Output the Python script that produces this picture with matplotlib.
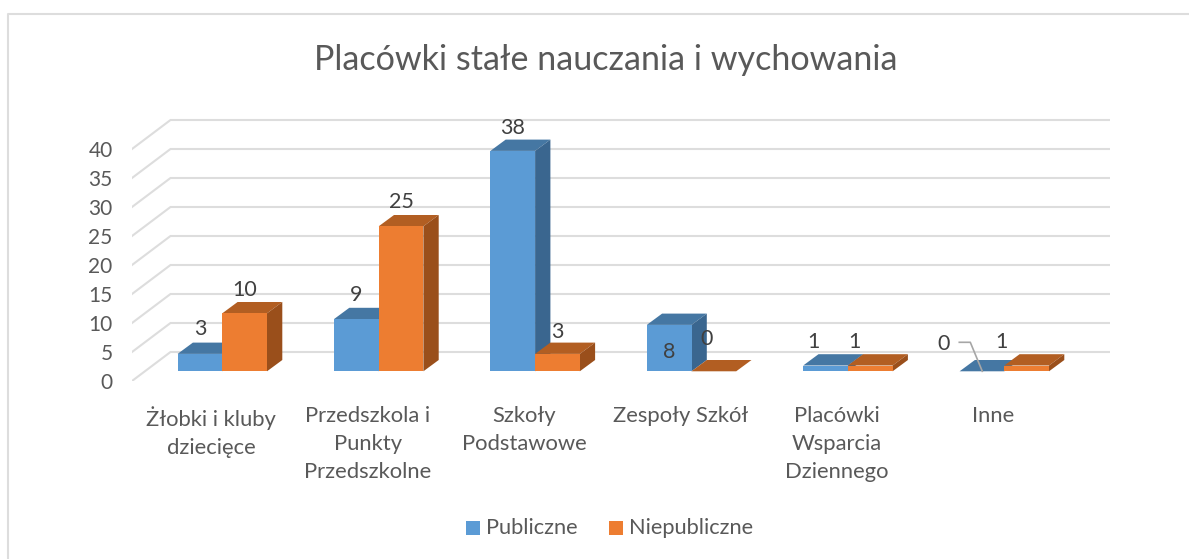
import matplotlib
matplotlib.use("Agg")
import matplotlib.pyplot as plt
from matplotlib.patches import Polygon, Rectangle
from matplotlib.transforms import ScaledTranslation

plt.rcParams['font.family'] = ['Lato', 'DejaVu Sans']

categories = ["Żłobki i kluby\ndziecięce", "Przedszkola i\nPunkty\nPrzedszkolne",
              "Szkoły\nPodstawowe", "Zespoły Szkół", "Placówki\nWsparcia\nDziennego", "Inne"]
publiczne = [3, 9, 38, 8, 1, 0]
niepubliczne = [10, 25, 3, 0, 1, 1]
y_ticks = [0, 5, 10, 15, 20, 25, 30, 35, 40]

W, H = 1189, 559
px_x = 156.4   # pixels per category
px_y = 5.8     # pixels per value unit
zero_x, zero_y = 222.3, 371.3
left, right, bottom, top = 132, 1110, 381, 100

fig = plt.figure(figsize=(W / 100, H / 100), dpi=100)
ax = fig.add_axes([left / W, 1 - bottom / H, (right - left) / W, (bottom - top) / H])
ax.set_xlim((left - zero_x) / px_x, (right - zero_x) / px_x)
ax.set_ylim((zero_y - bottom) / px_y, (zero_y - top) / px_y)
for s in ax.spines.values():
    s.set_visible(False)

bar_w = 44.7 / px_x
dep_x, dep_y = 15.3 / px_x, 11.3 / px_y
wall_x, wall_y = 38.5 / px_x, 29 / px_y
x0 = ax.get_xlim()[0]
x1 = ax.get_xlim()[1]
y0 = ax.get_ylim()[0]

# walls
grid = "#DDDDDD"
for v in y_ticks:
    ax.plot([x0, x0 + wall_x, x1], [y0 + v, y0 + v + wall_y, y0 + v + wall_y],
            color=grid, lw=1.5, zorder=1, solid_joinstyle="miter")


def bar3d(x, v, front, shade_top, shade_side, z):
    ax.add_patch(Polygon([(x, v), (x + dep_x, v + dep_y), (x + bar_w + dep_x, v + dep_y), (x + bar_w, v)],
                         fc=shade_top, ec="none", zorder=z))
    if v > 0:
        ax.add_patch(Polygon([(x + bar_w, 0), (x + bar_w + dep_x, dep_y), (x + bar_w + dep_x, v + dep_y), (x + bar_w, v)],
                             fc=shade_side, ec="none", zorder=z))
        ax.bar(x, v, bar_w, align="edge", color=front, zorder=z)


for i in range(len(categories)):
    bar3d(i - bar_w, publiczne[i], "#5B9BD5", "#4577A3", "#3A668F", 2 + i * 0.1)
    bar3d(i, niepubliczne[i], "#ED7D31", "#B25E22", "#9A4F1B", 2.05 + i * 0.1)

# data labels, offsets from bar centre in pixels
pub_off = [(0, 25), (0, 24), (0, 23), (0, -27), (-12, 23), (-38, 27)]
nie_off = [(0, 23), (0, 24), (0, 22), (-7, 32), (-16, 23), (-25, 23)]
for i in range(len(categories)):
    ax.text(i - bar_w / 2 + pub_off[i][0] / px_x, publiczne[i] + pub_off[i][1] / px_y, str(publiczne[i]),
            ha="center", va="center", fontsize=15.5, color="#404040", zorder=5)
    ax.text(i + bar_w / 2 + nie_off[i][0] / px_x, niepubliczne[i] + nie_off[i][1] / px_y, str(niepubliczne[i]),
            ha="center", va="center", fontsize=15.5, color="#404040", zorder=5)

# leader line for the 0 label of "Inne"
ax.plot([5 - 45 / px_x, 5 - 34 / px_x, 5 - 22 / px_x], [29 / px_y, 29 / px_y, 0],
        color="#A6A6A6", lw=1.2, zorder=5)

# labels sit left of the bar centre, as in the original
ax.set_xticks(range(len(categories)))
ax.set_xticklabels(categories, fontsize=15.8, color="#595959", linespacing=1.5, va="top")
ax.tick_params(axis="x", length=0, pad=18)
xshift = ScaledTranslation(-11 / 100, 0, fig.dpi_scale_trans)
for lab in ax.get_xticklabels():
    lab.set_transform(lab.get_transform() + xshift)
ax.set_yticks(y_ticks)
ax.set_yticklabels([str(v) for v in y_ticks], fontsize=15, color="#595959")
ax.tick_params(axis="y", length=0, pad=14)
shift = ScaledTranslation(0, -10 / 100, fig.dpi_scale_trans)
for lab in ax.get_yticklabels():
    lab.set_transform(lab.get_transform() + shift)

fig.text(605.5 / W, 1 - 60 / H, "Placówki stałe nauczania i wychowania", ha="center", va="center",
         fontsize=24.6, color="#595959")

# legend
for sx, name, col in [(466, "Publiczne", "#5B9BD5"), (609, "Niepubliczne", "#ED7D31")]:
    fig.add_artist(Rectangle((sx / W, 1 - 535 / H), 14 / W, 14 / H, transform=fig.transFigure, fc=col, ec="none"))
    fig.text((sx + 20) / W, 1 - 528 / H, name, ha="left", va="center", fontsize=15.7, color="#595959")

# chart frame
fig.add_artist(plt.Line2D([8 / W, 8 / W, 1], [0, 1 - 14 / H, 1 - 14 / H], color=grid, lw=1.5))

fig.savefig("out.png", dpi=100)
